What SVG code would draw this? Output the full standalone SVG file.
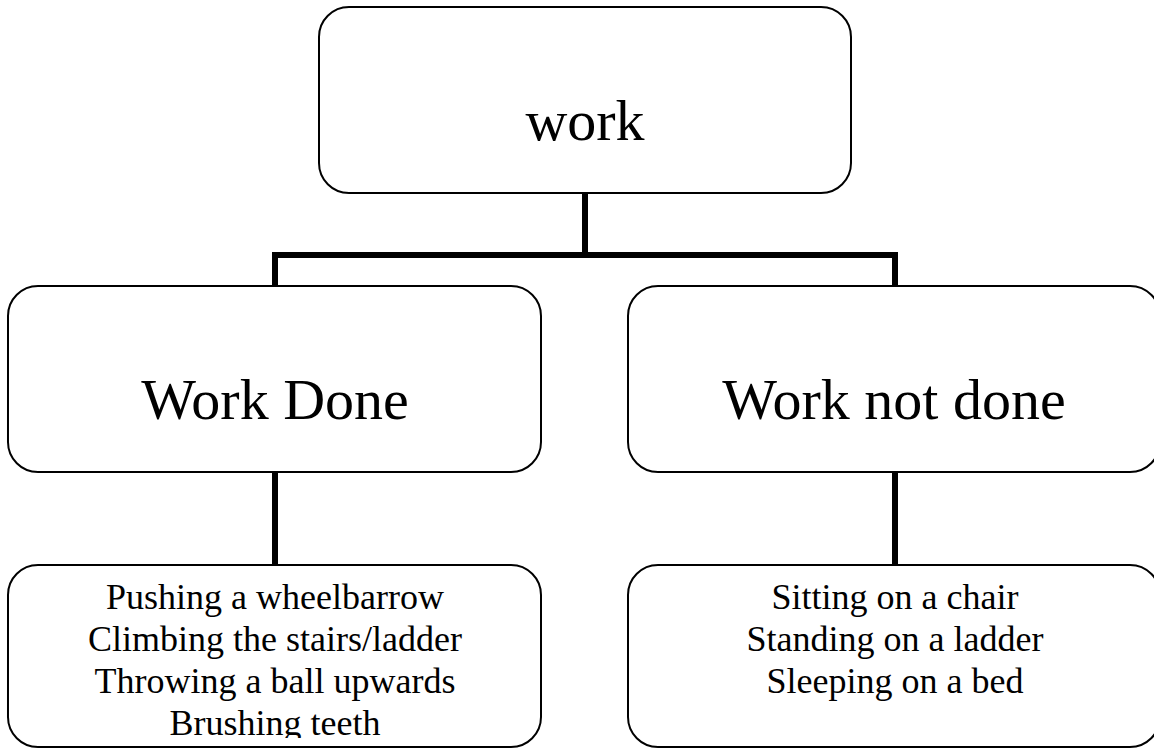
<svg xmlns="http://www.w3.org/2000/svg" width="1154" height="749" viewBox="0 0 1154 749">
<style>
.box{fill:#fff;stroke:#000;stroke-width:2}
.con{fill:none;stroke:#000;stroke-width:6;stroke-linecap:butt}
.t{font-family:"Liberation Serif","Times New Roman",serif;fill:#000;text-anchor:middle}
.big{font-size:58px}
.small{font-size:36px}
</style>
<defs>
<clipPath id="clipL"><rect x="8" y="565" width="533" height="173"/></clipPath>
</defs>
<rect width="1154" height="749" fill="#fff"/>
<g id="connectors">
<path class="con" d="M585 193 V255"/>
<path class="con" d="M275 289 V255 H895 V289"/>
<path class="con" d="M275 472 V565"/>
<path class="con" d="M895 472 V565"/>
</g>
<g id="node-work">
<rect class="box" x="319" y="7" width="532" height="186" rx="30" ry="30"/>
<text class="t big" x="585" y="140">work</text>
</g>
<g id="node-work-done">
<rect class="box" x="8" y="286" width="533" height="186" rx="30" ry="30"/>
<text class="t big" x="275" y="419">Work Done</text>
</g>
<g id="node-work-not-done">
<rect class="box" x="628" y="286" width="532" height="186" rx="30" ry="30"/>
<text class="t big" x="894" y="419">Work not done</text>
</g>
<g id="node-done-examples">
<rect class="box" x="8" y="565" width="533" height="182" rx="30" ry="30"/>
<g clip-path="url(#clipL)">
<text class="t small" x="275" y="609">Pushing a wheelbarrow</text>
<text class="t small" x="275" y="651">Climbing the stairs/ladder</text>
<text class="t small" x="275" y="693">Throwing a ball upwards</text>
<text class="t small" x="275" y="735">Brushing teeth</text>
</g>
</g>
<g id="node-not-done-examples">
<rect class="box" x="628" y="565" width="532" height="182" rx="30" ry="30"/>
<text class="t small" x="895" y="609">Sitting on a chair</text>
<text class="t small" x="895" y="651">Standing on a ladder</text>
<text class="t small" x="895" y="693">Sleeping on a bed</text>
</g>
</svg>
